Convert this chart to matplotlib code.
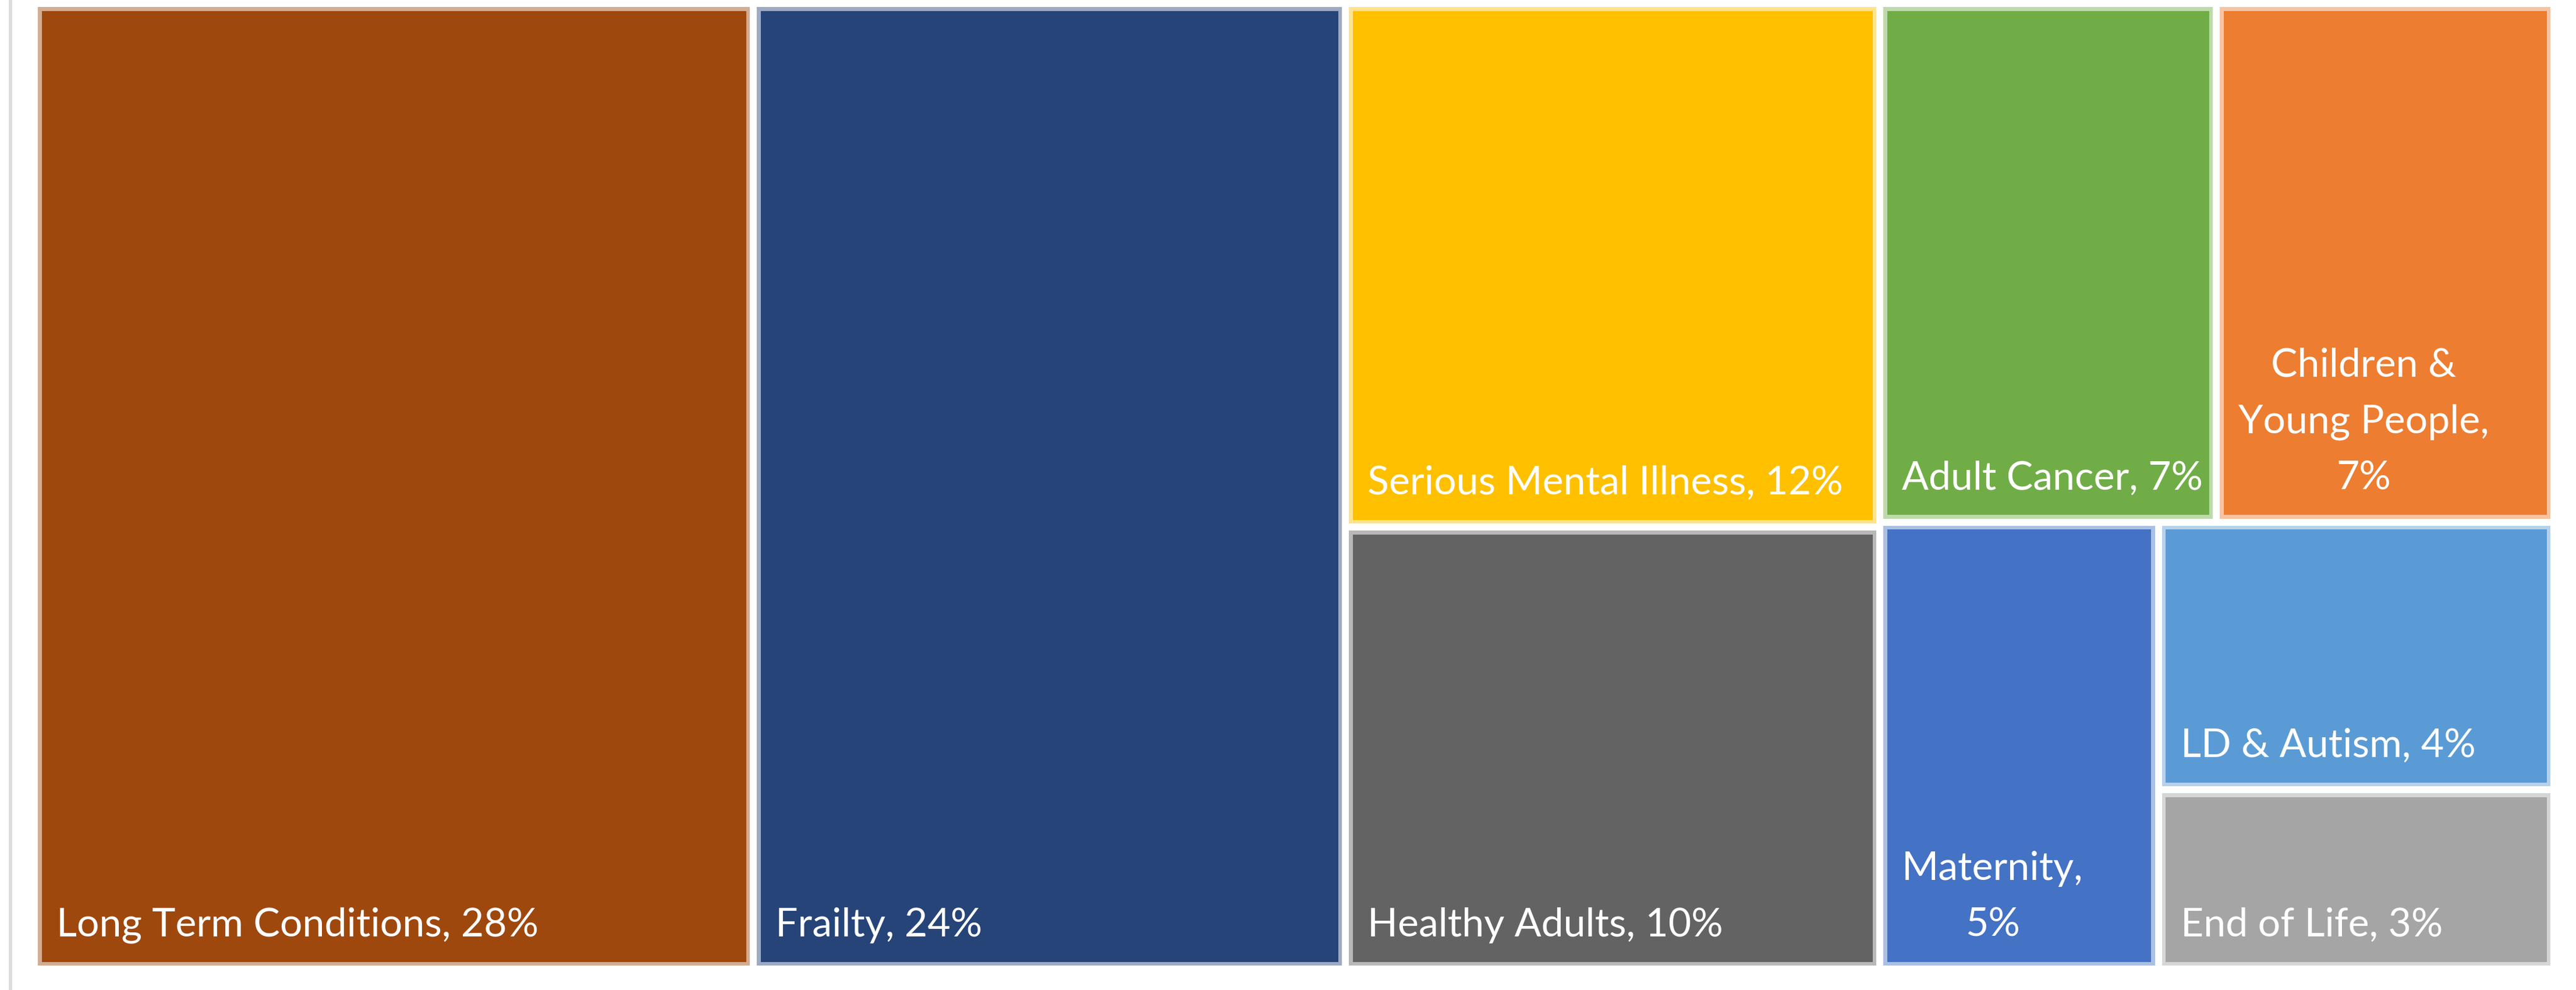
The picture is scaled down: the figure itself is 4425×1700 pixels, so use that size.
import matplotlib
matplotlib.use("Agg")
import matplotlib.pyplot as plt
from matplotlib.patches import Rectangle
from matplotlib.lines import Line2D

# ---- data ----
categories = ["Long Term Conditions", "Frailty", "Serious Mental Illness",
              "Healthy Adults", "Adult Cancer", "Children & Young People",
              "Maternity", "LD & Autism", "End of Life"]
shares = [28.48, 23.56, 11.54, 9.73, 7.20, 7.15, 5.13, 4.35, 2.86]
labels = ["Long Term Conditions, 28%", "Frailty, 24%", "Serious Mental Illness, 12%",
          "Healthy Adults, 10%", "Adult Cancer, 7%", "Children &\nYoung People,\n7%",
          "Maternity,\n5%", "LD & Autism, 4%", "End of Life, 3%"]
colors = ["#9E480E", "#264478", "#FFC000", "#636363", "#70AD47", "#ED7D31",
          "#4472C4", "#5B9BD5", "#A5A5A5"]

W, H = 4316.0, 1646.0
GAP = 12.0
EDGE = 6.5


def worst(row, w):
    s = sum(row)
    return max(max(w * w * r / (s * s), s * s / (w * w * r)) for r in row)


def squarify(values, x, y, dx, dy):
    total = sum(values)
    vals = [v * dx * dy / total for v in values]
    rects = []
    while vals:
        w = min(dx, dy)
        row = [vals[0]]
        i = 1
        while i < len(vals) and worst(row + [vals[i]], w) <= worst(row, w):
            row.append(vals[i])
            i += 1
        vals = vals[i:]
        s = sum(row)
        if dx >= dy:
            cw = s / dy
            yy = y
            for r in row:
                h = r / cw
                rects.append((x, yy, cw, h))
                yy += h
            x += cw
            dx -= cw
        else:
            rh = s / dx
            xx = x
            for r in row:
                ww = r / rh
                rects.append((xx, y, ww, rh))
                xx += ww
            y += rh
            dy -= rh
    return rects


fig = plt.figure(figsize=(44.25, 17), dpi=100)
fig.patch.set_facecolor("white")
ax = fig.add_axes([65 / 4425, 42 / 1700, W / 4425, H / 1700])
ax.set_xlim(0, W)
ax.set_ylim(H, 0)
ax.axis("off")

# left grey frame line
fig.add_artist(Line2D([18 / 4425, 18 / 4425], [0, 1], transform=fig.transFigure,
                      color="#DCDCDC", linewidth=4.3))

rects = squarify(shares, 0, 0, W, H)
eps = 1e-6
for (x, y, w, h), col, lab in zip(rects, colors, labels):
    x0 = x + (GAP / 2 if x > eps else 0)
    y0 = y + (GAP / 2 if y > eps else 0)
    x1 = x + w - (GAP / 2 if x + w < W - eps else 0)
    y1 = y + h - (GAP / 2 if y + h < H - eps else 0)
    ax.add_patch(Rectangle((x0, y0), x1 - x0, y1 - y0, facecolor=col, alpha=0.45,
                           edgecolor="none"))
    ax.add_patch(Rectangle((x0 + EDGE, y0 + EDGE), x1 - x0 - 2 * EDGE,
                           y1 - y0 - 2 * EDGE, facecolor=col, edgecolor="none"))
    ax.text(x0 + 32, y1 - 38, lab, color="white", fontsize=49, family="Lato",
            ha="left", va="bottom", multialignment="center", linespacing=1.7)

fig.savefig("out.png", dpi=100, facecolor="white")
